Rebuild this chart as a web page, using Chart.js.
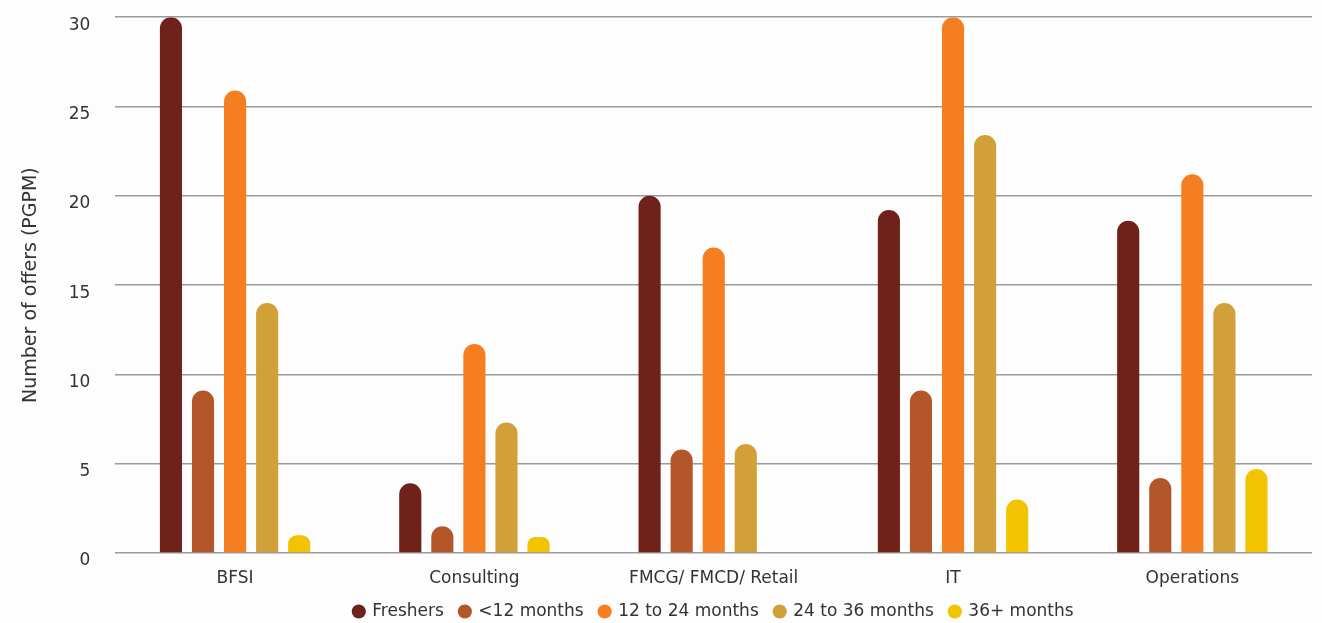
<!DOCTYPE html>
<html>
<head>
<meta charset="utf-8">
<script src="https://cdn.jsdelivr.net/npm/chart.js@4"></script>
<style>
  html, body { margin: 0; padding: 0; background: #fdfdfd; }
  #wrap { width: 1322px; height: 623px; }
</style>
</head>
<body>
<div id="wrap"><canvas id="offersChart"></canvas></div>
<script>
const categories = ['BFSI', 'Consulting', 'FMCG/ FMCD/ Retail', 'IT', 'Operations'];
const freshers = [30, 3.9, 20, 19.2, 18.6];
const under12 = [9.1, 1.5, 5.8, 9.1, 4.2];
const m12to24 = [25.9, 11.7, 17.1, 30, 21.2];
const m24to36 = [14, 7.3, 6.1, 23.4, 14];
const m36plus = [1, 0.9, 0, 3, 4.7];
const yTicks = [0, 5, 10, 15, 20, 25, 30];

const ctx = document.getElementById('offersChart').getContext('2d');
const fontFamily = 'DejaVu Sans, Verdana, sans-serif';

// one dataset per experience band
const series = [
    { label: 'Freshers', data: freshers, color: '#6e2219' },
    { label: '<12 months', data: under12, color: '#b3572a' },
    { label: '12 to 24 months', data: m12to24, color: '#f47e20' },
    { label: '24 to 36 months', data: m24to36, color: '#d1a038' },
    { label: '36+ months', data: m36plus, color: '#f2c300' }
];

new Chart(ctx, {
    type: 'bar',
    data: {
        labels: categories,
        datasets: series.map(s => ({
            label: s.label,
            data: s.data,
            backgroundColor: s.color,
            borderRadius: 12,
            borderSkipped: 'start',
            categoryPercentage: 0.67,
            barPercentage: 0.69
        }))
    },
    options: {
        responsive: true,
        maintainAspectRatio: false,
        animation: false,
        // small negative bottom padding pulls the legend closer to the edge
        layout: { padding: { top: 0, right: 10, left: 16, bottom: -7 } },
        scales: {
            x: {
                grid: { display: false, tickLength: 8 },
                border: { display: false },
                ticks: {
                    color: '#333',
                    font: { family: fontFamily, size: 17 },
                    padding: 7
                },
                afterFit: scale => { scale.height = 34; }
            },
            y: {
                min: 0,
                max: 30,
                afterBuildTicks: axis => { axis.ticks = yTicks.map(v => ({ value: v })); },
                grid: {
                    color: '#9a9a9a',
                    lineWidth: 1.5,
                    drawTicks: true,
                    tickLength: 18,
                    tickColor: 'rgba(0,0,0,0)'
                },
                border: { display: false },
                ticks: {
                    color: '#333',
                    font: { family: fontFamily, size: 17 },
                    padding: 7,
                    labelOffset: 8
                },
                title: {
                    display: true,
                    text: 'Number of offers (PGPM)',
                    color: '#333',
                    font: { family: fontFamily, size: 19 },
                    padding: { top: 4, bottom: 19 }
                }
            }
        },
        plugins: {
            legend: {
                position: 'bottom',
                fullSize: false,
                labels: {
                    usePointStyle: true,
                    pointStyle: 'circle',
                    boxWidth: 10,
                    boxHeight: 10,
                    padding: 16,
                    color: '#333',
                    font: { family: fontFamily, size: 17 }
                }
            },
            tooltip: { enabled: false }
        }
    }
});
</script>
</body>
</html>
